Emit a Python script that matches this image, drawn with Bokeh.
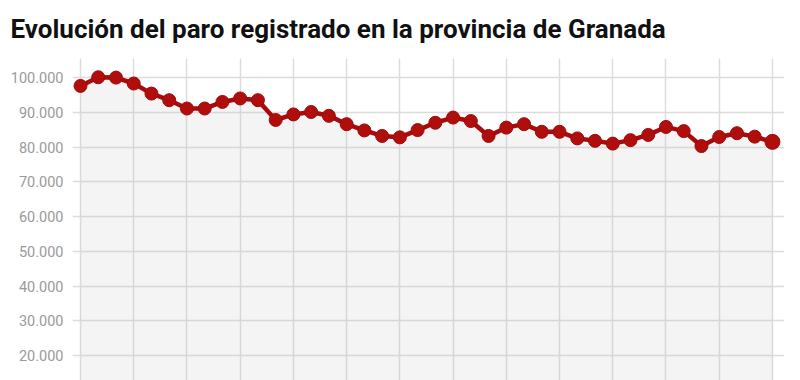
from bokeh.plotting import figure
from bokeh.models import Range1d, FixedTicker, CustomJSTickFormatter
from bokeh.embed import file_html
from bokeh.resources import INLINE

title = "Evolución del paro registrado en la provincia de Granada"
paro = [97600, 100100, 100000, 98300, 95400, 93500, 91100, 91100, 93000, 94000,
        93500, 87800, 89400, 90100, 89000, 86600, 84800, 83200, 82800, 84900,
        87000, 88500, 87500, 83200, 85600, 86600, 84400, 84400, 82500, 81800,
        81000, 82000, 83500, 85800, 84600, 80300, 82900, 84000, 83000, 81500]
y_ticks = [20000, 30000, 40000, 50000, 60000, 70000, 80000, 90000, 100000]

x = list(range(len(paro)))

p = figure(width=800, height=380, output_backend="svg", toolbar_location=None,
           x_range=Range1d(-0.451, 39.68), y_range=Range1d(12800, 105500),
           min_border_left=72, min_border_right=16, min_border_top=57,
           min_border_bottom=0, background_fill_color="white",
           border_fill_color="white", outline_line_color=None)

p.title.text = title
p.title.text_font = "Roboto"
p.title.text_font_size = "26px"
p.title.text_font_style = "bold"
p.title.text_color = "#111111"
p.title.offset = -62
p.title.standoff = 26
p.title.vertical_align = "top"

p.xaxis.visible = False
p.xgrid.ticker = FixedTicker(ticks=list(range(0, 40, 3)))
p.xgrid.grid_line_color = "#dcdcdc"
p.xgrid.grid_line_width = 1.5

p.yaxis.ticker = FixedTicker(ticks=y_ticks)
p.yaxis.formatter = CustomJSTickFormatter(code="return tick.toLocaleString('de-DE');")
p.yaxis.axis_line_color = None
p.yaxis.major_tick_out = 0
p.yaxis.major_tick_in = 0
p.yaxis.minor_tick_line_color = None
p.yaxis.major_label_standoff = 9
p.yaxis.major_label_text_font = "Roboto"
p.yaxis.major_label_text_font_size = "14.5px"
p.yaxis.major_label_text_color = "#9a9a9a"
p.ygrid.grid_line_color = "#dcdcdc"
p.ygrid.grid_line_width = 1.5

p.varea(x=x, y1=[0] * len(paro), y2=paro, fill_color="#bdbdbd", fill_alpha=0.17)
p.line(x, paro, line_color="#a80b0b", line_width=4.5)
p.scatter(x, paro, size=13, fill_color="#b00d0d", line_color="#a00a0a", line_width=1)
p.scatter(x[-1:], paro[-1:], size=15, fill_color="#b00d0d", line_color="#a00a0a", line_width=1)

open("out.html", "w").write(file_html(p, INLINE))
